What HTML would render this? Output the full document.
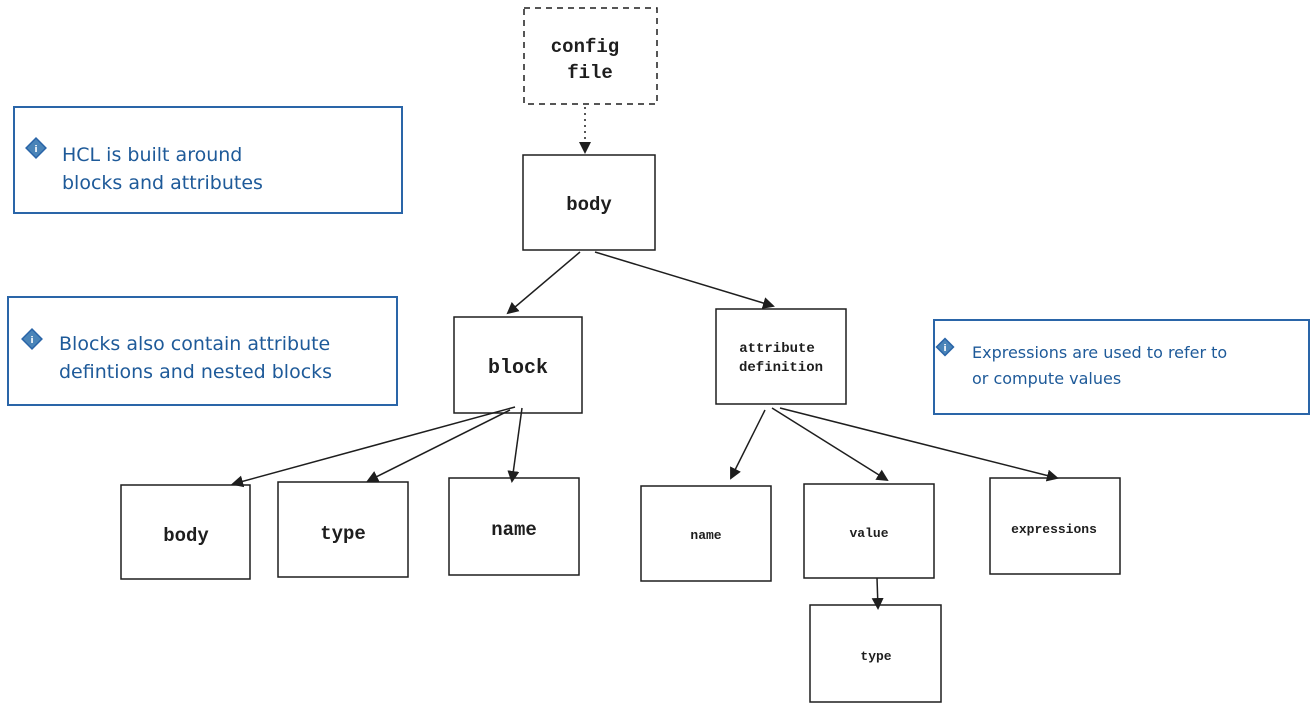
<!DOCTYPE html>
<html><head><meta charset="utf-8"><style>
html,body{margin:0;padding:0;background:#fff;width:1316px;height:711px;overflow:hidden}
</style></head><body>
<svg width="1316" height="711" viewBox="0 0 1316 711" xmlns="http://www.w3.org/2000/svg">
<defs><marker id="a" markerWidth="12" markerHeight="12" refX="10" refY="6" orient="auto" markerUnits="userSpaceOnUse"><path d="M0,0 L12,6 L0,12 z" fill="#1e1e1e"/></marker></defs>
<g fill="none" stroke="#1e1e1e" stroke-width="1.5">
<rect x="524" y="8" width="133" height="96" stroke-dasharray="6,5"/>
<rect x="523" y="155" width="132" height="95"/>
<rect x="454" y="317" width="128" height="96"/>
<rect x="716" y="309" width="130" height="95"/>
<rect x="121" y="485" width="129" height="94"/>
<rect x="278" y="482" width="130" height="95"/>
<rect x="449" y="478" width="130" height="97"/>
<rect x="641" y="486" width="130" height="95"/>
<rect x="804" y="484" width="130" height="94"/>
<rect x="990" y="478" width="130" height="96"/>
<rect x="810" y="605" width="131" height="97"/>
<line x1="585" y1="107" x2="585" y2="152" stroke-dasharray="2,4" marker-end="url(#a)"/>
<line x1="580" y1="252" x2="508" y2="313" marker-end="url(#a)"/>
<line x1="595" y1="252" x2="773" y2="306" marker-end="url(#a)"/>
<line x1="515" y1="407" x2="233" y2="484" marker-end="url(#a)"/>
<line x1="510" y1="410" x2="368" y2="481" marker-end="url(#a)"/>
<line x1="522" y1="408" x2="512" y2="481" marker-end="url(#a)"/>
<line x1="765" y1="410" x2="731" y2="478" marker-end="url(#a)"/>
<line x1="772" y1="408" x2="887" y2="480" marker-end="url(#a)"/>
<line x1="780" y1="408" x2="1057" y2="478" marker-end="url(#a)"/>
<line x1="877" y1="578" x2="878" y2="608" marker-end="url(#a)"/>
</g>
<g fill="none" stroke="#2a65a8" stroke-width="2">
<rect x="14" y="107" width="388" height="106"/>
<rect x="8" y="297" width="389" height="108"/>
<rect x="934" y="320" width="375" height="94"/>
</g>
<g fill="#4a84b8" stroke="#2a65a8" stroke-width="1.5">
<rect x="29" y="141" width="14" height="14" transform="rotate(45 36 148)"/>
<rect x="25" y="332" width="14" height="14" transform="rotate(45 32 339)"/>
<rect x="939" y="341" width="12" height="12" transform="rotate(45 945 347)"/>
</g>
<g fill="#fff" font-family="DejaVu Sans" font-size="9" font-weight="bold" text-anchor="middle">
<text x="36" y="152">i</text><text x="32" y="343">i</text><text x="945" y="351">i</text>
</g>
<g font-family="Liberation Mono, DejaVu Sans Mono, monospace" font-weight="bold" fill="#1e1e1e" text-anchor="middle">
<text x="585" y="52" font-size="19">config</text>
<text x="590" y="78" font-size="19">file</text>
<text x="589" y="210" font-size="19">body</text>
<text x="518" y="373" font-size="20">block</text>
<text x="777" y="352" font-size="14">attribute</text>
<text x="781" y="371" font-size="14">definition</text>
<text x="186" y="541" font-size="19">body</text>
<text x="343" y="539" font-size="19">type</text>
<text x="514" y="535" font-size="19">name</text>
<text x="706" y="539" font-size="13">name</text>
<text x="869" y="537" font-size="13">value</text>
<text x="1054" y="533" font-size="13">expressions</text>
<text x="876" y="660" font-size="13">type</text>
</g>
<g font-family="DejaVu Sans, sans-serif" fill="#1e5a99" font-size="19">
<text x="62" y="161">HCL is built around</text>
<text x="62" y="189">blocks and attributes</text>
<text x="59" y="350">Blocks also contain attribute</text>
<text x="59" y="378">defintions and nested blocks</text>
<text x="972" y="358" font-size="16">Expressions are used to refer to</text>
<text x="972" y="384" font-size="16">or compute values</text>
</g>
</svg>
</body></html>
